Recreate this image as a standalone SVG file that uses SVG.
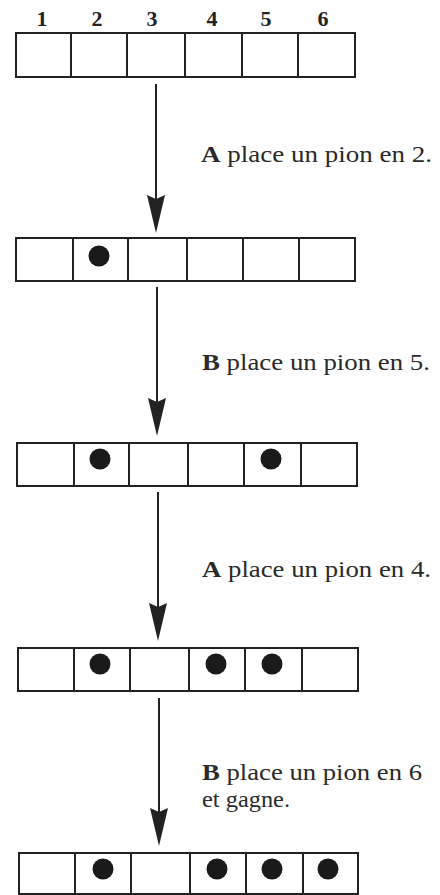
<svg xmlns="http://www.w3.org/2000/svg" width="440" height="895" viewBox="0 0 440 895">
<style>
.cell{fill:#fff;stroke:#222;stroke-width:2}
.div{stroke:#222;stroke-width:2}
.pawn{fill:#1a1a1a}
.num{font-weight:bold;font-size:22px;fill:#222;text-anchor:middle}
.lbl{font-size:24px;fill:#2a2a2a}
.lbl tspan.b{font-weight:bold}
.arr{stroke:#222;stroke-width:2;fill:none}
.head{fill:#222}
</style>
<rect width="440" height="895" fill="#fff"/>
<g id="labels-top" font-family="'Liberation Serif', 'Times New Roman', Times, serif">
<text class="num" x="42" y="26">1</text>
<text class="num" x="97" y="26">2</text>
<text class="num" x="152" y="26">3</text>
<text class="num" x="212" y="26">4</text>
<text class="num" x="266" y="26">5</text>
<text class="num" x="323" y="26">6</text>
</g>
<g id="row1">
<rect class="cell" x="16" y="33" width="339" height="44"/>
<line class="div" x1="71" y1="33" x2="71" y2="77"/>
<line class="div" x1="127" y1="33" x2="127" y2="77"/>
<line class="div" x1="185" y1="33" x2="185" y2="77"/>
<line class="div" x1="242" y1="33" x2="242" y2="77"/>
<line class="div" x1="298" y1="33" x2="298" y2="77"/>
</g>
<g id="row2">
<rect class="cell" x="16" y="238" width="339" height="43"/>
<line class="div" x1="73" y1="238" x2="73" y2="281"/>
<line class="div" x1="128" y1="238" x2="128" y2="281"/>
<line class="div" x1="187" y1="238" x2="187" y2="281"/>
<line class="div" x1="243" y1="238" x2="243" y2="281"/>
<line class="div" x1="299" y1="238" x2="299" y2="281"/>
<circle class="pawn" cx="99" cy="256" r="10.5"/>
</g>
<g id="row3">
<rect class="cell" x="17" y="443" width="340" height="43"/>
<line class="div" x1="74" y1="443" x2="74" y2="486"/>
<line class="div" x1="129" y1="443" x2="129" y2="486"/>
<line class="div" x1="188" y1="443" x2="188" y2="486"/>
<line class="div" x1="244" y1="443" x2="244" y2="486"/>
<line class="div" x1="301" y1="443" x2="301" y2="486"/>
<circle class="pawn" cx="100" cy="459" r="10.5"/>
<circle class="pawn" cx="271" cy="459" r="10.5"/>
</g>
<g id="row4">
<rect class="cell" x="18" y="648" width="340" height="43"/>
<line class="div" x1="74" y1="648" x2="74" y2="691"/>
<line class="div" x1="130" y1="648" x2="130" y2="691"/>
<line class="div" x1="189" y1="648" x2="189" y2="691"/>
<line class="div" x1="245" y1="648" x2="245" y2="691"/>
<line class="div" x1="302" y1="648" x2="302" y2="691"/>
<circle class="pawn" cx="100" cy="664" r="10.5"/>
<circle class="pawn" cx="216" cy="664" r="10.5"/>
<circle class="pawn" cx="272" cy="664" r="10.5"/>
</g>
<g id="row5">
<rect class="cell" x="19" y="853" width="339" height="41"/>
<line class="div" x1="75" y1="853" x2="75" y2="895"/>
<line class="div" x1="131" y1="853" x2="131" y2="895"/>
<line class="div" x1="190" y1="853" x2="190" y2="895"/>
<line class="div" x1="246" y1="853" x2="246" y2="895"/>
<line class="div" x1="303" y1="853" x2="303" y2="895"/>
<circle class="pawn" cx="103" cy="869" r="10.5"/>
<circle class="pawn" cx="217" cy="869" r="10.5"/>
<circle class="pawn" cx="272" cy="869" r="10.5"/>
<circle class="pawn" cx="328" cy="869" r="10.5"/>
</g>
<g id="connectors">
<line class="arr" x1="156" y1="84" x2="156" y2="200"/>
<polygon class="head" points="147,195 156,199 165,195 156,233"/>
<line class="arr" x1="157" y1="287" x2="157" y2="402"/>
<polygon class="head" points="148,398 157,402 166,398 157,436"/>
<line class="arr" x1="158" y1="492" x2="158" y2="607"/>
<polygon class="head" points="149,603 158,607 167,603 158,641"/>
<line class="arr" x1="159" y1="698" x2="159" y2="812"/>
<polygon class="head" points="150,808 159,812 168,808 159,846"/>
</g>
<g id="texts" font-family="'Liberation Serif', 'Times New Roman', Times, serif">
<text class="lbl" x="201" y="162" textLength="231" lengthAdjust="spacingAndGlyphs"><tspan class="b">A</tspan> place un pion en 2.</text>
<text class="lbl" x="202" y="370" textLength="228" lengthAdjust="spacingAndGlyphs"><tspan class="b">B</tspan> place un pion en 5.</text>
<text class="lbl" x="202" y="577" textLength="229" lengthAdjust="spacingAndGlyphs"><tspan class="b">A</tspan> place un pion en 4.</text>
<text class="lbl" x="202" y="780" textLength="220" lengthAdjust="spacingAndGlyphs"><tspan class="b">B</tspan> place un pion en 6</text>
<text class="lbl" x="202" y="807" textLength="88" lengthAdjust="spacingAndGlyphs">et gagne.</text>
</g>
</svg>
